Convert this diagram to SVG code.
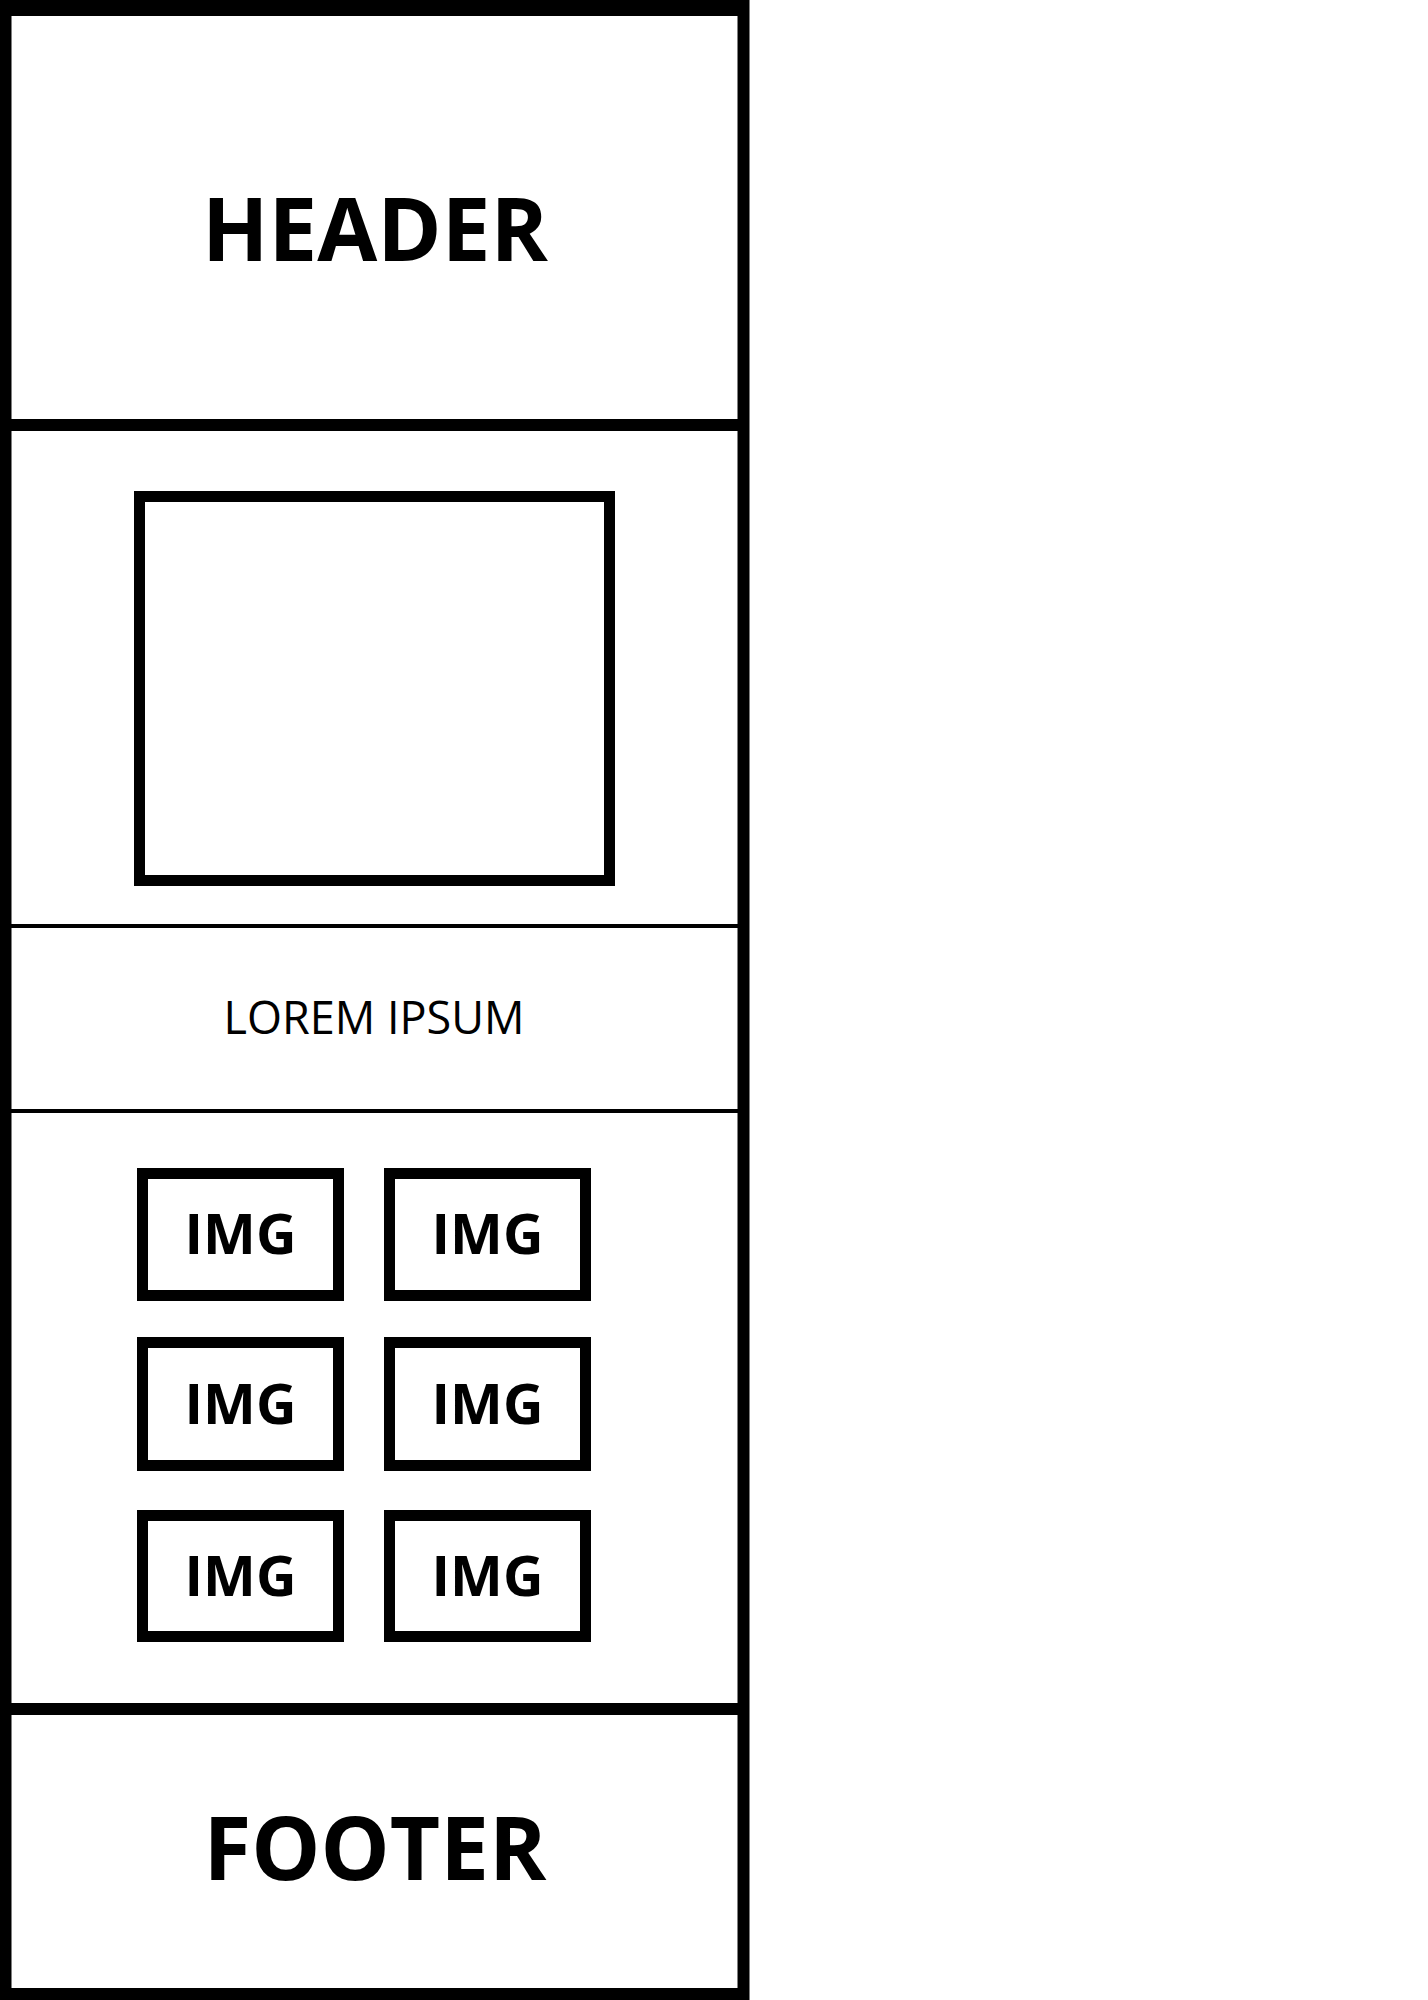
<svg xmlns="http://www.w3.org/2000/svg" width="1428" height="2000" viewBox="0 0 1428 2000">
<style>
.box{fill:none;stroke:#000;stroke-width:11}
.big{font-family:"Open Sans","Liberation Sans",sans-serif;font-weight:700;font-size:87px;text-anchor:middle;fill:#000}
.img{font-family:"Open Sans","Liberation Sans",sans-serif;font-weight:700;font-size:56px;text-anchor:middle;fill:#000}
.body{font-family:"Open Sans","Liberation Sans",sans-serif;font-weight:400;font-size:45px;text-anchor:middle;fill:#000}
</style>
<rect width="1428" height="2000" fill="#fff"/>
<g id="frame">
<rect x="5.5" y="6" width="738" height="1988" fill="none" stroke="#000" stroke-width="12"/>
<rect x="0" y="0" width="749" height="16" fill="#000"/>
</g>
<g id="dividers" stroke="#000">
<line x1="0" y1="425" x2="749" y2="425" stroke-width="12"/>
<line x1="0" y1="926" x2="749" y2="926" stroke-width="4"/>
<line x1="0" y1="1111" x2="749" y2="1111" stroke-width="4"/>
<line x1="0" y1="1709" x2="749" y2="1709" stroke-width="12"/>
</g>
<g id="header"><text class="big" x="375" y="261">HEADER</text></g>
<g id="hero"><rect class="box" x="139.5" y="496.5" width="470" height="384"/></g>
<g id="lorem"><text class="body" x="374" y="1034">LOREM IPSUM</text></g>
<g id="img1"><rect class="box" x="142.5" y="1173.5" width="196" height="122"/><text class="img" x="240.5" y="1254">IMG</text></g>
<g id="img2"><rect class="box" x="389.5" y="1173.5" width="196" height="122"/><text class="img" x="487.5" y="1254">IMG</text></g>
<g id="img3"><rect class="box" x="142.5" y="1342.5" width="196" height="123"/><text class="img" x="240.5" y="1424">IMG</text></g>
<g id="img4"><rect class="box" x="389.5" y="1342.5" width="196" height="123"/><text class="img" x="487.5" y="1424">IMG</text></g>
<g id="img5"><rect class="box" x="142.5" y="1515.5" width="196" height="121"/><text class="img" x="240.5" y="1596">IMG</text></g>
<g id="img6"><rect class="box" x="389.5" y="1515.5" width="196" height="121"/><text class="img" x="487.5" y="1596">IMG</text></g>
<g id="footer"><text class="big" x="375" y="1880">FOOTER</text></g>
</svg>
